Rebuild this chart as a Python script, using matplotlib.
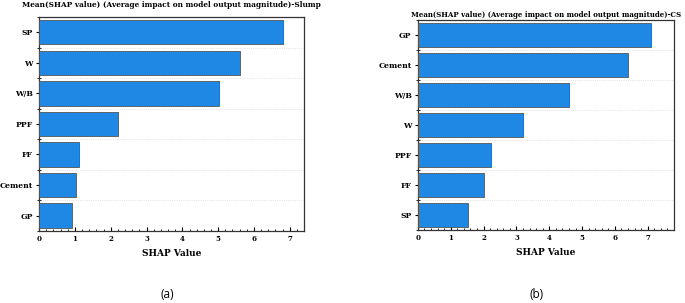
import matplotlib.pyplot as plt
from matplotlib.ticker import MultipleLocator, FixedLocator

# Panel (a) - Slump
features_slump = ["SP", "W", "W/B", "PPF", "FF", "Cement", "GP"]
shap_slump = [6.81, 5.60, 5.01, 2.21, 1.11, 1.02, 0.92]

# Panel (b) - CS
features_cs = ["GP", "Cement", "W/B", "W", "PPF", "FF", "SP"]
shap_cs = [7.11, 6.41, 4.61, 3.21, 2.22, 2.02, 1.52]

x_ticks = [0, 1, 2, 3, 4, 5, 6, 7]

bar_color = "#1f88e5"
serif = "DejaVu Serif"

fig = plt.figure(figsize=(6.85, 3.03), dpi=100)


def shap_panel(ax, features, values, title, xmax, title_size, title_pad):
    n = len(features)
    pos = list(range(n))[::-1]
    ax.barh(pos, values, height=0.8, color=bar_color,
            edgecolor="#555555", linewidth=0.6, zorder=3)
    ax.set_xlim(0, xmax)
    ax.set_ylim(-0.5, n - 0.5)
    ax.set_yticks(pos)
    ax.set_yticklabels(features, fontfamily=serif, fontweight="bold", fontsize=5.5)
    ax.yaxis.set_minor_locator(FixedLocator([p + 0.5 for p in range(-1, n)]))
    ax.xaxis.set_major_locator(FixedLocator(x_ticks))
    ax.set_xticklabels([str(t) for t in x_ticks], fontfamily=serif,
                       fontweight="bold", fontsize=5)
    ax.xaxis.set_minor_locator(MultipleLocator(0.2))
    ax.tick_params(axis="x", which="major", direction="in", length=3, width=0.8, pad=3)
    ax.tick_params(axis="x", which="minor", direction="in", length=1.5, width=0.6)
    ax.tick_params(axis="y", which="major", direction="out", length=2.5, width=0.8, pad=2)
    ax.tick_params(axis="y", which="minor", direction="inout", length=3, width=0.6)
    ax.grid(True, axis="y", which="minor", linestyle=":", linewidth=0.5,
            color="#cccccc", zorder=0)
    for s in ax.spines.values():
        s.set_linewidth(0.9)
        s.set_color("#333333")
    ax.set_xlabel("SHAP Value", fontfamily=serif, fontweight="bold",
                  fontsize=6.5, labelpad=4)
    ax.set_title(title, fontfamily=serif, fontweight="bold",
                 fontsize=title_size, pad=title_pad)


# (a) Slump
ax1 = fig.add_axes([0.057, 0.238, 0.387, 0.706])
shap_panel(ax1, features_slump, shap_slump,
           "Mean(SHAP value) (Average impact on model output magnitude)-Slump",
           7.4, 5.3, 7)

# (b) CS
ax2 = fig.add_axes([0.610, 0.241, 0.374, 0.693])
shap_panel(ax2, features_cs, shap_cs,
           "Mean(SHAP value) (Average impact on model output magnitude)-CS",
           7.8, 5.0, 2)

fig.text(167 / 685, 1 - 295 / 303, "(a)", ha="center", va="center",
         fontfamily="Open Sans", fontsize=8.5)
fig.text(537 / 685, 1 - 295 / 303, "(b)", ha="center", va="center",
         fontfamily="Open Sans", fontsize=8.5)

fig.savefig("out.png", dpi=100)
